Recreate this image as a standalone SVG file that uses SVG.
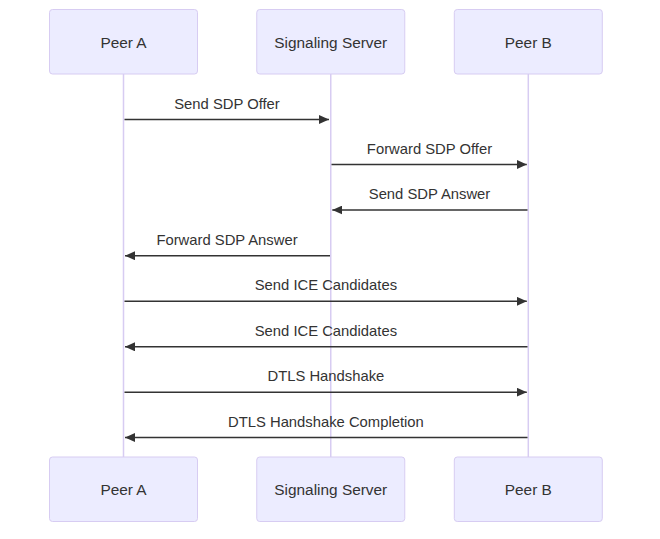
<svg xmlns="http://www.w3.org/2000/svg" width="660" height="539" viewBox="0 0 660 539">
<style>
.actor{fill:#ECECFF;stroke:#D7CCF2;stroke-width:1}
.lbl{font-family:"Liberation Sans",Arial,sans-serif;font-size:15.4px;fill:#333;text-anchor:middle;dominant-baseline:central}
.msgt{font-family:"Liberation Sans",Arial,sans-serif;font-size:14.8px;fill:#333;text-anchor:middle}
.life{stroke:#D7CCF2;stroke-width:1.5}
.msg{stroke:#333;stroke-width:1.5;fill:none;marker-end:url(#ah)}
</style>
<defs>
<marker id="ah" markerWidth="10" markerHeight="9" refX="10" refY="4.5" orient="auto" markerUnits="userSpaceOnUse">
<path d="M0,0 L10,4.5 L0,9 z" fill="#333"/>
</marker>
</defs>
<rect width="660" height="539" fill="#fff"/>
<g id="lifelines">
<line class="life" x1="123.5" y1="74" x2="123.5" y2="457"/>
<line class="life" x1="330.75" y1="74" x2="330.75" y2="457"/>
<line class="life" x1="528.3" y1="74" x2="528.3" y2="457"/>
</g>
<g id="peerA-top"><rect class="actor" x="49.5" y="9.5" width="148" height="64.5" rx="3"/><text class="lbl" x="123.5" y="42">Peer A</text></g>
<g id="server-top"><rect class="actor" x="256.75" y="9.5" width="148" height="64.5" rx="3"/><text class="lbl" x="330.75" y="42">Signaling Server</text></g>
<g id="peerB-top"><rect class="actor" x="454.3" y="9.5" width="148" height="64.5" rx="3"/><text class="lbl" x="528.3" y="42">Peer B</text></g>
<g id="peerA-bottom"><rect class="actor" x="49.5" y="457" width="148" height="64.5" rx="3"/><text class="lbl" x="123.5" y="489.5">Peer A</text></g>
<g id="server-bottom"><rect class="actor" x="256.75" y="457" width="148" height="64.5" rx="3"/><text class="lbl" x="330.75" y="489.5">Signaling Server</text></g>
<g id="peerB-bottom"><rect class="actor" x="454.3" y="457" width="148" height="64.5" rx="3"/><text class="lbl" x="528.3" y="489.5">Peer B</text></g>
<g id="connectors">
<path class="msg" d="M124.5,119.5 L329,119.5"/>
<text class="msgt" x="227" y="108.5">Send SDP Offer</text>
<path class="msg" d="M331.5,164.5 L526.8,164.5"/>
<text class="msgt" x="429.5" y="153.5">Forward SDP Offer</text>
<path class="msg" d="M527.5,210 L332.3,210"/>
<text class="msgt" x="429.5" y="199">Send SDP Answer</text>
<path class="msg" d="M330,255.7 L125,255.7"/>
<text class="msgt" x="227" y="244.7">Forward SDP Answer</text>
<path class="msg" d="M124.5,301.3 L526.8,301.3"/>
<text class="msgt" x="325.9" y="290.3">Send ICE Candidates</text>
<path class="msg" d="M527.5,346.8 L125,346.8"/>
<text class="msgt" x="325.9" y="335.8">Send ICE Candidates</text>
<path class="msg" d="M124.5,392.2 L526.8,392.2"/>
<text class="msgt" x="325.9" y="381.2">DTLS Handshake</text>
<path class="msg" d="M527.5,437.5 L125,437.5"/>
<text class="msgt" x="325.9" y="426.5">DTLS Handshake Completion</text>
</g>
</svg>
